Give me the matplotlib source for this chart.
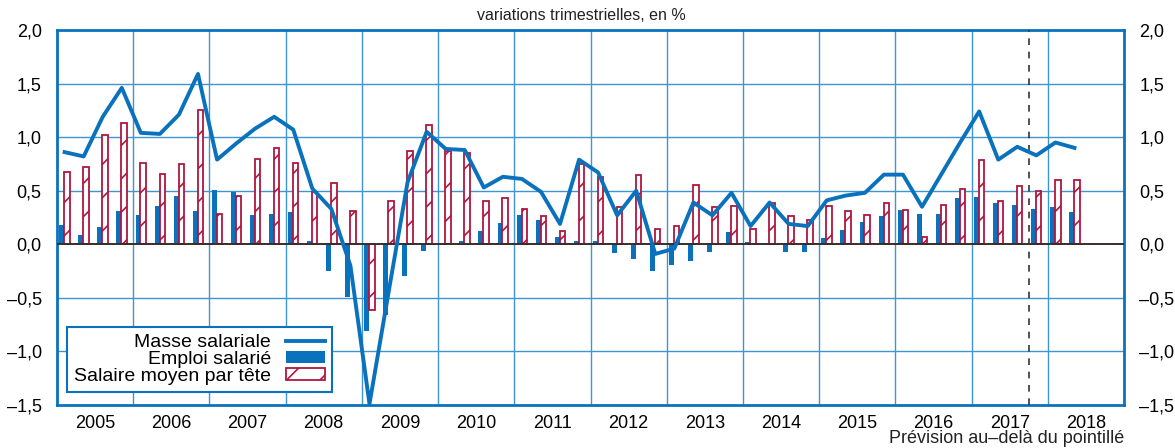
import numpy as np
import matplotlib
matplotlib.use("Agg")
import matplotlib.pyplot as plt
from matplotlib.ticker import FuncFormatter, FixedLocator

plt.rcParams['font.family'] = ['Liberation Sans', 'DejaVu Sans']
plt.rcParams['hatch.linewidth'] = 1.2

# quarterly data, 2005 Q1 -> 2018 Q2
years = list(range(2005, 2019))
masse = [0.86, 0.82, 1.19, 1.46,
         1.04, 1.03, 1.21, 1.59,
         0.79, 0.94, 1.08, 1.19,
         1.07, 0.52, 0.33, -0.20,
         -1.49, -0.45, 0.58, 1.05,
         0.89, 0.88, 0.53, 0.63,
         0.61, 0.49, 0.19, 0.79,
         0.67, 0.27, 0.50, -0.09,
         -0.04, 0.39, 0.27, 0.48,
         0.17, 0.39, 0.19, 0.17,
         0.41, 0.455, 0.48, 0.65,
         0.65, 0.35, 0.65, 0.95,
         1.24, 0.79, 0.91, 0.83,
         0.95, 0.90]
emploi = [0.18, 0.09, 0.16, 0.31,
          0.27, 0.36, 0.455, 0.31,
          0.505, 0.49, 0.27, 0.28,
          0.30, 0.03, -0.25, -0.49,
          -0.81, -0.66, -0.30, -0.06,
          -0.01, 0.03, 0.125, 0.20,
          0.27, 0.23, 0.07, 0.03,
          0.03, -0.085, -0.14, -0.245,
          -0.195, -0.16, -0.07, 0.115,
          0.025, 0.01, -0.075, -0.07,
          0.056, 0.137, 0.21, 0.26,
          0.32, 0.285, 0.285, 0.43,
          0.445, 0.39, 0.365, 0.33,
          0.345, 0.305]
salaire = [0.675, 0.72, 1.02, 1.13,
           0.76, 0.66, 0.75, 1.255,
           0.28, 0.45, 0.80, 0.90,
           0.76, 0.49, 0.57, 0.31,
           -0.61, 0.40, 0.875, 1.11,
           0.87, 0.85, 0.40, 0.43,
           0.33, 0.26, 0.12, 0.75,
           0.63, 0.35, 0.65, 0.14,
           0.17, 0.555, 0.345, 0.36,
           0.14, 0.39, 0.26, 0.23,
           0.36, 0.31, 0.27, 0.39,
           0.32, 0.065, 0.37, 0.52,
           0.785, 0.40, 0.54, 0.50,
           0.60, 0.60]
prevision_debut = 51  # quarters: forecast after 2017 Q3

blue = '#0a72bd'
grid_blue = '#3f95d3'
red = '#b0163f'

fig = plt.figure(figsize=(11.75, 4.48), dpi=100)
ax = fig.add_axes([57 / 1175, 43 / 448, 1067 / 1175, 375 / 448])

x = np.arange(len(masse))
ax.bar(x + 0.12, emploi, width=0.26, align='edge', color=blue, zorder=3,
       label='Emploi salarié')
ax.bar(x + 0.38, salaire, width=0.29, align='edge', facecolor='white',
       edgecolor=red, hatch='/', linewidth=1.3, zorder=3,
       label='Salaire moyen par tête')
ax.plot(x + 0.40, masse, color=blue, lw=2.8, zorder=5, label='Masse salariale')

ax.axhline(0, color='#3b2b2b', lw=1.4, zorder=4)
ax.axvline(prevision_debut, color='#333333', lw=1.2, ls=(0, (4, 4)), zorder=4)

# grid
for yv in [-1.0, -0.5, 0.5, 1.0, 1.5]:
    ax.axhline(yv, color=grid_blue, lw=1.0, zorder=1)
for k in range(1, len(years)):
    ax.axvline(4 * k, color=grid_blue, lw=1.0, zorder=1)

ax.set_xlim(0, 4 * len(years))
ax.set_ylim(-1.5, 2.0)

for sp in ax.spines.values():
    sp.set_color(blue)
    sp.set_linewidth(2)

ax.xaxis.set_major_locator(FixedLocator([4 * k for k in range(len(years) + 1)]))
ax.xaxis.set_minor_locator(FixedLocator([4 * k + 2 for k in range(len(years))]))
ax.xaxis.set_major_formatter(FuncFormatter(lambda v, p: ''))
ax.set_xticklabels([str(y) for y in years], minor=True)
ax.tick_params(axis='x', which='both', length=0, labelsize=13, pad=7)

ax.set_yticks(np.arange(-1.5, 2.01, 0.5))
ax.yaxis.set_major_formatter(FuncFormatter(
    lambda v, p: f"{v:.1f}".replace('.', ',').replace('-', '\u2013')))
ax.tick_params(axis='y', length=0, labelsize=13, labelright=True, pad=11)

handles, labels = ax.get_legend_handles_labels()
order = [labels.index('Masse salariale'), labels.index('Emploi salarié'),
         labels.index('Salaire moyen par tête')]
leg = ax.legend([handles[i] for i in order], [labels[i] for i in order],
                loc='lower left', bbox_to_anchor=(0.0094, 0.035),
                borderaxespad=0, markerfirst=False, fancybox=False,
                fontsize=14, handlelength=2.0, handleheight=0.55,
                labelspacing=0.0, borderpad=0.35, handletextpad=0.8,
                framealpha=1)
leg.get_frame().set_edgecolor(blue)
leg.get_frame().set_linewidth(1.5)
leg.set_zorder(6)

fig.text(581 / 1175, 1 - 15 / 448, 'variations trimestrielles, en %',
         ha='center', va='center', fontsize=11.5, color='#222222')
fig.text(1124 / 1175, 1 - 438 / 448, 'Prévision au\u2013delà du pointillé',
         ha='right', va='center', fontsize=13, color='#222222')

fig.savefig('out.png', dpi=100)
